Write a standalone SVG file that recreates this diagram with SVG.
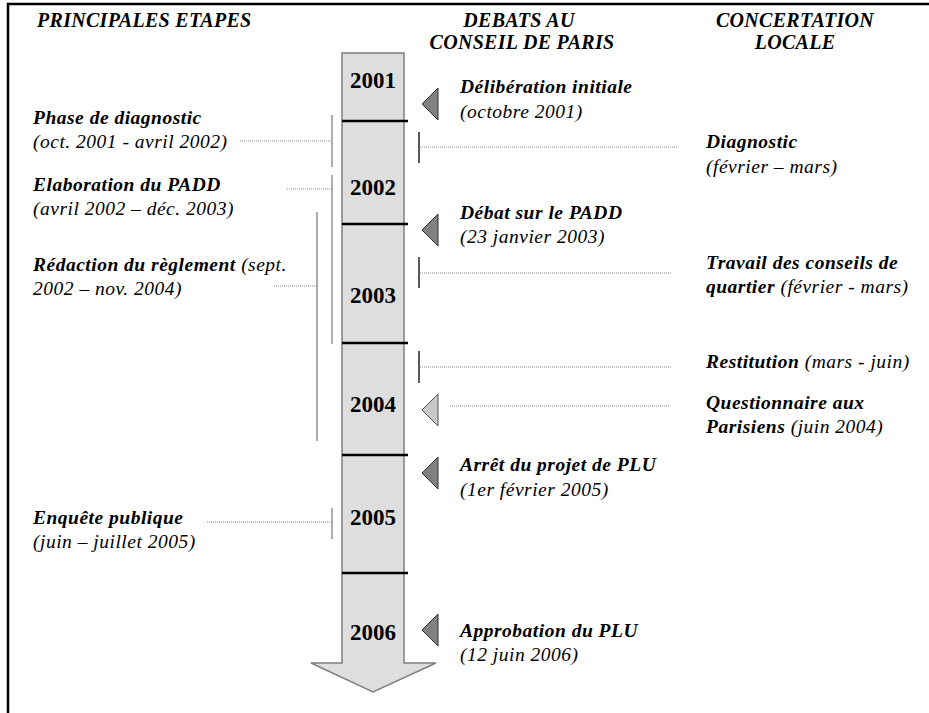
<svg xmlns="http://www.w3.org/2000/svg" width="929" height="713" viewBox="0 0 929 713">
<style>
text{font-family:"Liberation Serif","Times New Roman",serif;font-style:italic;fill:#000}
.hdr{font-size:20px;font-weight:bold;letter-spacing:0.3px}
.b{font-size:19.5px;font-weight:bold;letter-spacing:0.5px}
.i{font-size:19.5px;font-weight:normal;letter-spacing:0.5px}
.yr{font-size:23px;font-weight:bold;font-style:normal;text-anchor:middle}
.dot{stroke:#8a8a8a;stroke-width:1;stroke-dasharray:1 1;fill:none}
.gv{stroke:#808080;stroke-width:1.3;fill:none}
.bv{stroke:#000;stroke-width:1.3;fill:none}
.sep{stroke:#000;stroke-width:2.5}
.tri{fill:#808080;stroke:#333;stroke-width:1}
.tril{fill:#c8c8c8;stroke:#555;stroke-width:1}
</style>
<rect width="929" height="713" fill="#fff"/>
<path d="M8,713 V4 H929" fill="none" stroke="#000" stroke-width="2.5"/>
<g id="headers">
<text class="hdr" x="37" y="27">PRINCIPALES ETAPES</text>
<text class="hdr" x="519" y="27" text-anchor="middle">DEBATS AU</text>
<text class="hdr" x="522" y="49" text-anchor="middle">CONSEIL DE PARIS</text>
<text class="hdr" x="795" y="27" text-anchor="middle">CONCERTATION</text>
<text class="hdr" x="795" y="49" text-anchor="middle">LOCALE</text>
</g>
<g id="timeline">
<path d="M342,53 H404 V663 H436 L373,692 L311,663 H342 Z" fill="#dedede" stroke="#808080" stroke-width="1.5"/>
<line class="sep" x1="342" y1="121" x2="408" y2="121"/>
<line class="sep" x1="342" y1="224" x2="408" y2="224"/>
<line class="sep" x1="342" y1="343" x2="408" y2="343"/>
<line class="sep" x1="342" y1="455" x2="408" y2="455"/>
<line class="sep" x1="342" y1="573" x2="408" y2="573"/>
<text class="yr" x="373" y="88">2001</text>
<text class="yr" x="373" y="195">2002</text>
<text class="yr" x="373" y="303">2003</text>
<text class="yr" x="373" y="412">2004</text>
<text class="yr" x="373" y="525">2005</text>
<text class="yr" x="373" y="640">2006</text>
</g>
<g id="connectors">
<line class="gv" x1="332" y1="115" x2="332" y2="167"/>
<line class="dot" x1="240" y1="141" x2="332" y2="141"/>
<line class="gv" x1="332" y1="175" x2="332" y2="344"/>
<line class="dot" x1="287" y1="189" x2="332" y2="189"/>
<line class="gv" x1="317" y1="212" x2="317" y2="441"/>
<line class="dot" x1="274" y1="286" x2="317" y2="286"/>
<line class="gv" x1="332" y1="508" x2="332" y2="539"/>
<line class="dot" x1="207" y1="522" x2="332" y2="522"/>
<line class="bv" x1="419" y1="132" x2="419" y2="163"/>
<line class="dot" x1="420" y1="147" x2="678" y2="147"/>
<line class="bv" x1="419" y1="257" x2="419" y2="288"/>
<line class="dot" x1="420" y1="273" x2="671" y2="273"/>
<line class="bv" x1="419" y1="351" x2="419" y2="383"/>
<line class="dot" x1="420" y1="367" x2="671" y2="367"/>
<line class="dot" x1="450" y1="406" x2="670" y2="406"/>
</g>
<g id="events">
<polygon class="tri" points="422,104 438,88 438,120"/>
<polygon class="tri" points="422,230 438,214 438,246"/>
<polygon class="tril" points="422,410 438,394 438,426"/>
<polygon class="tri" points="422,473 438,457 438,489"/>
<polygon class="tri" points="422,630 438,614 438,646"/>
</g>
<g id="n-phase"><text class="b" x="33" y="124">Phase de diagnostic</text><text class="i" x="33" y="148">(oct. 2001 - avril 2002)</text></g>
<g id="n-padd"><text class="b" x="33" y="191">Elaboration du PADD</text><text class="i" x="33" y="215">(avril 2002 – déc. 2003)</text></g>
<g id="n-reglement"><text x="33" y="271"><tspan class="b">Rédaction du règlement</tspan><tspan class="i"> (sept.</tspan></text><text class="i" x="33" y="295">2002 – nov. 2004)</text></g>
<g id="n-enquete"><text class="b" x="33" y="524">Enquête publique</text><text class="i" x="33" y="548">(juin – juillet 2005)</text></g>
<g id="n-deliberation"><text class="b" x="460" y="93">Délibération initiale</text><text class="i" x="460" y="118">(octobre 2001)</text></g>
<g id="n-debat"><text class="b" x="460" y="219">Débat sur le PADD</text><text class="i" x="460" y="243">(23 janvier 2003)</text></g>
<g id="n-arret"><text class="b" x="460" y="471">Arrêt du projet de PLU</text><text class="i" x="460" y="496">(1er février 2005)</text></g>
<g id="n-approbation"><text class="b" x="460" y="637">Approbation du PLU</text><text class="i" x="460" y="661">(12 juin 2006)</text></g>
<g id="n-diagnostic"><text class="b" x="706" y="148">Diagnostic</text><text class="i" x="706" y="173">(février – mars)</text></g>
<g id="n-travail"><text class="b" x="706" y="269">Travail des conseils de</text><text x="706" y="293"><tspan class="b">quartier</tspan><tspan class="i"> (février - mars)</tspan></text></g>
<g id="n-restitution"><text x="706" y="368"><tspan class="b">Restitution</tspan><tspan class="i"> (mars - juin)</tspan></text></g>
<g id="n-questionnaire"><text class="b" x="706" y="409">Questionnaire aux</text><text x="706" y="433"><tspan class="b">Parisiens</tspan><tspan class="i"> (juin 2004)</tspan></text></g>
</svg>
